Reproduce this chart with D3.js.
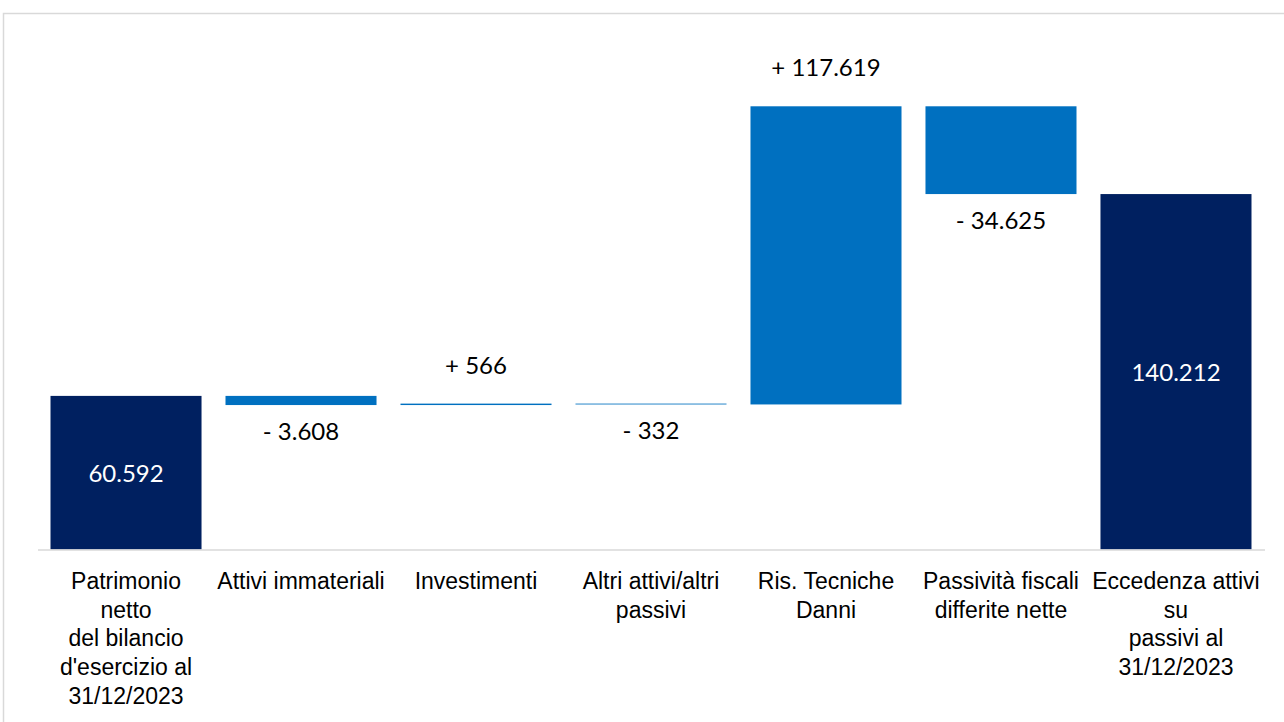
<!DOCTYPE html>
<html>
<head>
<meta charset="utf-8">
<script src="https://cdn.jsdelivr.net/npm/d3@7"></script>
<style>
  body { margin: 0; background: #fff; }
  svg { display: block; font-family: Lato, "Open Sans", sans-serif; }
</style>
</head>
<body>
<div id="app"></div>
<script>
const w = 1284;
const h = 722;

// waterfall data
const categories = ["pn", "imm", "inv", "altri", "ris", "fisc", "ecc"];
const categoryLabels = [
  ["Patrimonio", "netto", "del bilancio", "d'esercizio al", "31/12/2023"],
  ["Attivi immateriali"],
  ["Investimenti"],
  ["Altri attivi/altri", "passivi"],
  ["Ris. Tecniche", "Danni"],
  ["Passività fiscali", "differite nette"],
  ["Eccedenza attivi", "su", "passivi al", "31/12/2023"]
];
const values = [60592, -3608, 566, -332, 117619, -34625, 140212];
const isTotal = [true, false, false, false, false, false, true];
const valueLabels = ["60.592", "- 3.608", "+ 566", "- 332", "+ 117.619", "- 34.625", "140.212"];

// build start/end for each bar
let running = 0;
const bars = values.map((v, i) => {
  let start, end;
  if (isTotal[i]) {
    start = 0;
    end = v;
    running = v;
  } else {
    start = running;
    end = running + v;
    running = end;
  }
  return { key: categories[i], value: v, start, end, total: isTotal[i], label: valueLabels[i] };
});

const svg = d3.select("#app").append("svg").attr("width", w).attr("height", h);

// light frame
svg.append("rect")
  .attr("x", 3.5).attr("y", 13.5)
  .attr("width", 1400).attr("height", 900)
  .attr("fill", "none").attr("stroke", "#d9d9d9").attr("stroke-width", 1.5);

const xScale = d3.scaleBand()
  .domain(categories)
  .range([38.5, 1263.5])
  .paddingInner(0.137)
  .paddingOuter(0.0686);

const yScale = d3.scaleLinear().domain([0, 180000]).range([549.5, 93.2]);

// bars
svg.selectAll("rect.bar")
  .data(bars)
  .enter()
  .append("rect")
  .attr("class", "bar")
  .attr("x", (d) => xScale(d.key))
  .attr("width", xScale.bandwidth())
  .attr("y", (d) => yScale(Math.max(d.start, d.end)))
  .attr("height", (d) => Math.abs(yScale(d.start) - yScale(d.end)))
  .attr("fill", (d) => (d.total ? "#002060" : "#0070c0"));

// x axis
const xAxis = d3.axisBottom(xScale).tickSize(0).tickFormat("");
const gx = svg.append("g").attr("transform", "translate(0,550)").call(xAxis);
gx.select(".domain").attr("stroke", "#d9d9d9").attr("stroke-width", 1.5)
  .attr("d", "M38,0H1265");

gx.selectAll(".tick").each(function (d, i) {
  const t = d3.select(this).append("text")
    .attr("text-anchor", "middle")
    .attr("fill", "#000")
    .attr("font-size", 23)
    .attr("y", 39);
  categoryLabels[i].forEach((line, j) => {
    t.append("tspan").attr("x", 0).attr("y", 39 + j * 28.7).text(line);
  });
});

// value labels
svg.selectAll("text.val")
  .data(bars)
  .enter()
  .append("text")
  .attr("class", "val")
  .attr("text-anchor", "middle")
  .attr("font-size", 24)
  .attr("x", (d) => xScale(d.key) + xScale.bandwidth() / 2)
  .attr("y", (d) => {
    if (d.total) return (yScale(0) + yScale(d.end)) / 2 + 9;
    if (d.value > 0) return yScale(d.end) - 30;
    return yScale(d.end) + 35;
  })
  .attr("fill", (d) => (d.total ? "#fff" : "#000"))
  .text((d) => d.label);
</script>
</body>
</html>
